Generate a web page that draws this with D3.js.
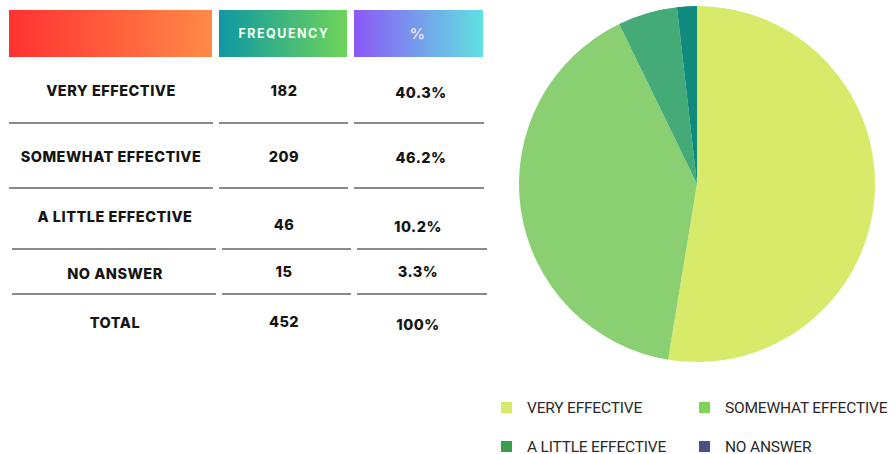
<!DOCTYPE html>
<html><head><meta charset="utf-8">
<script src="https://cdn.jsdelivr.net/npm/d3@7"></script>
<style>body{margin:0;background:#fff}svg{display:block}</style>
</head><body>
<svg id="c" width="895" height="454"></svg>
<script>
const categories = ["VERY EFFECTIVE","SOMEWHAT EFFECTIVE","A LITTLE EFFECTIVE","NO ANSWER"];
const frequency = [182,209,46,15];
const percentLabels = ["40.3%","46.2%","10.2%","3.3%"];
const totalLabel = "TOTAL", totalFreq = 452, totalPct = "100%";
const headers = ["", "FREQUENCY", "%"];
// pie slice shares as drawn in the picture (%)
const pieValues = [52.6, 40.2, 5.4, 1.8];
const pieColors = ["#d8ea6a","#8acf72","#44aa78","#0f8a7c"];
const legendColors = ["#d6ea6b","#7fd35c","#3d9c4c","#4a5183"];

const svg = d3.select("#c");
const defs = svg.append("defs");
const grads = [["#ff3232","#ff8a48"],["#0e98a2","#6fd45a"],["#8b58f6","#5fe2e0"]];
grads.forEach((g,i)=>{
  const lg = defs.append("linearGradient").attr("id","g"+i);
  lg.append("stop").attr("offset","0%").attr("stop-color",g[0]);
  lg.append("stop").attr("offset","100%").attr("stop-color",g[1]);
});
const cols = [{x:9,w:203,cx:111},{x:219,w:128,cx:284},{x:354,w:129,cx:421}];
const hdr = svg.append("g");
cols.forEach((c,i)=>{
  hdr.append("rect").attr("x",c.x).attr("y",10).attr("width",c.w).attr("height",47).attr("fill",`url(#g${i})`);
  if(headers[i]) hdr.append("text").attr("x",c.cx+(i==2?-3:0)).attr("y",i==2?39:38).attr("text-anchor","middle")
     .attr("font-family","Inter, sans-serif").attr("font-weight",700).attr("font-size",i==2?15:12.5)
     .attr("letter-spacing",1.5).attr("fill", i==2?"#e6e0ff":"#f4fff0").text(headers[i]);
});
const rows = categories.map((c,i)=>({label:c,f:String(frequency[i]),p:percentLabels[i]}));
rows.push({label:totalLabel,f:String(totalFreq),p:totalPct});
const rowY = [[96,96,98],[162,162,163],[222,230,232],[279,277,277],[328,327,330]];
const lineY = [123,188,249,294];
const lineShift = [0,0,3,3];
const tf = "Inter, 'DejaVu Sans', sans-serif";
rows.forEach((r,i)=>{
  const g = svg.append("g");
  [r.label,r.f,r.p].forEach((t,j)=>{
    g.append("text").attr("x",cols[j].cx+(i>=2&&j==0?4:0)+(j==2&&i>=2?-3:0)).attr("y",rowY[i][j]).attr("text-anchor","middle")
      .attr("font-family",tf).attr("font-weight",800).attr("font-size",14.5).attr("letter-spacing",0.5)
      .attr("fill","#151515").text(t);
  });
});
lineY.forEach((y,i)=>{
  cols.forEach(c=>{
    svg.append("line").attr("x1",c.x+lineShift[i]).attr("x2",c.x+c.w+lineShift[i]+1)
      .attr("y1",y).attr("y2",y).attr("stroke","#8a8a8a").attr("stroke-width",2);
  });
});

// pie
const pie = d3.pie().sort(null).value(d=>d)(pieValues);
const arc = d3.arc().innerRadius(0).outerRadius(178);
svg.append("g").attr("transform","translate(697,184)")
  .selectAll("path").data(pie).join("path").attr("d",arc).attr("fill",(d,i)=>pieColors[i]);

// legend
const leg = [{x:501,y:407},{x:699,y:407},{x:501,y:446},{x:699,y:446}];
categories.forEach((c,i)=>{
  svg.append("rect").attr("x",leg[i].x).attr("y",leg[i].y-5).attr("width",11).attr("height",11).attr("fill",legendColors[i]);
  svg.append("text").attr("x",leg[i].x+26).attr("y",leg[i].y+5.5).attr("font-family","Roboto, sans-serif")
    .attr("font-size",15.5).attr("letter-spacing",-0.2).attr("fill","#2a2a2a").text(c);
});
</script>
</body></html>
